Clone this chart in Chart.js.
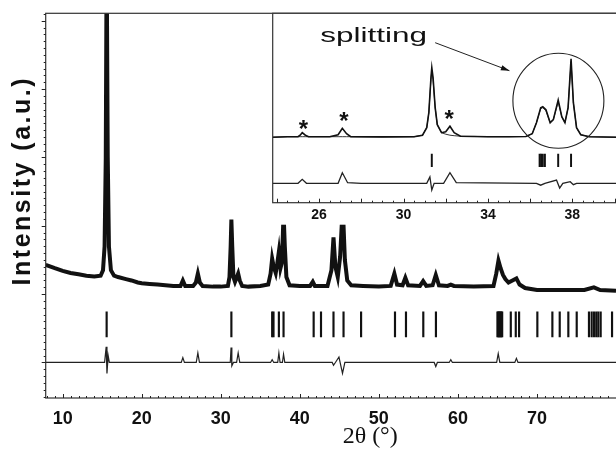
<!DOCTYPE html>
<html>
<head>
<meta charset="utf-8">
<script src="https://cdn.jsdelivr.net/npm/chart.js@4.4.0/dist/chart.umd.min.js"></script>
<style>
  html, body { margin: 0; padding: 0; background: #fff; }
  #wrap { position: relative; width: 616px; height: 449px; overflow: hidden; }
  canvas { position: absolute; left: 0; top: 0; }
</style>
</head>
<body>
<div id="wrap">
  <canvas id="mainChart" width="616" height="449"></canvas>
  <canvas id="insetChart" width="616" height="449"></canvas>
</div>
<script>
// main pattern, observed intensity (a.u.) vs 2theta
let obsAngle = [7.85, 9, 10, 11, 12, 13, 14, 14.8, 15.1, 15.3, 15.45, 15.56, 15.7, 15.85, 16.1, 16.5,
  17, 18, 18.7, 19.5, 20, 21, 22, 23, 24, 24.9, 25.2, 25.5, 26.5, 26.85, 27.1, 27.35, 27.7, 29, 30,
  30.9, 31.1, 31.25, 31.34, 31.45, 31.6, 31.8, 32.0, 32.2, 32.4, 32.7, 33.5, 35, 36.0, 36.3, 36.5,
  36.7, 36.95, 37.15, 37.35, 37.55, 37.7, 37.85, 37.94, 38.1, 38.3, 38.7, 40, 41.3, 41.64, 41.9,
  43.5, 44.0, 44.26, 44.5, 44.8, 45.1, 45.43, 45.7, 46.0, 46.5, 48, 50, 51.5, 51.96, 52.3, 53.0,
  53.35, 53.7, 55.2, 55.6, 56.0, 56.8, 57.2, 57.6, 58.7, 59.1, 59.5, 62, 64.5, 64.85, 65.13, 65.4,
  65.7, 66.0, 66.4, 66.9, 67.4, 67.8, 68.5, 70, 72, 74, 76, 77.2, 78, 80];
let obsCounts = [1.43, 1.38, 1.34, 1.31, 1.29, 1.27, 1.26, 1.27, 1.35, 1.7, 3.0, 6.0, 3.0, 1.7, 1.35, 1.27,
  1.25, 1.22, 1.20, 1.17, 1.16, 1.15, 1.14, 1.13, 1.12, 1.12, 1.20, 1.12, 1.12, 1.17, 1.30, 1.17, 1.12, 1.11, 1.11,
  1.12, 1.25, 1.7, 2.09, 1.7, 1.25, 1.18, 1.24, 1.30, 1.2, 1.12, 1.11, 1.12, 1.14, 1.3, 1.52,
  1.4, 1.31, 1.45, 1.62, 1.38, 1.45, 1.85, 2.2, 1.7, 1.25, 1.13, 1.12, 1.12, 1.18, 1.12,
  1.12, 1.35, 1.83, 1.4, 1.25, 1.55, 2.3, 1.5, 1.2, 1.13, 1.12, 1.11, 1.12, 1.30, 1.14, 1.13,
  1.24, 1.13, 1.12, 1.19, 1.12, 1.13, 1.28, 1.13, 1.12, 1.14, 1.12, 1.11, 1.12, 1.3, 1.49, 1.38,
  1.28, 1.22, 1.17, 1.2, 1.23, 1.14, 1.09, 1.06, 1.06, 1.06, 1.06, 1.10, 1.06, 1.05];

// difference curve
let diffAngle = [7.85, 15.3, 15.5, 15.6, 15.75, 15.9, 25.0, 25.2, 25.4, 26.9, 27.1, 27.3, 31.2, 31.3, 31.4,
  31.6, 32.0, 32.2, 32.4, 36.3, 36.5, 36.7, 37.2, 37.35, 37.5, 37.8, 37.94, 38.1, 44.1, 44.26, 44.5,
  44.95, 45.4, 45.7, 57.0, 57.2, 57.4, 58.9, 59.1, 59.3, 64.9, 65.1, 65.3, 67.2, 67.4, 67.6, 80];
let diffCounts = [0, 0, 0.23, -0.16, 0.1, 0, 0, 0.07, 0, 0, 0.14, 0, 0, 0.22, -0.05,
  0, 0, 0.14, 0, 0, 0.04, 0, 0, 0.14, 0, 0, 0.12, 0, 0, -0.04, 0,
  0.08, -0.16, 0, 0, -0.06, 0, 0, 0.04, 0, 0, 0.13, 0, 0, 0.06, 0, 0];

// Bragg reflection positions
let braggPos = [15.56, 31.34, 36.5, 36.67, 37.35, 37.94, 41.75, 42.68, 44.26, 45.53, 47.75, 52.04, 53.43,
  55.62, 57.22, 65.0, 65.1, 65.2, 65.3, 65.4, 65.5, 65.6, 66.69, 67.32, 67.74, 70.05, 71.95, 72.88,
  73.97, 75.03, 76.58, 76.92, 77.21, 77.5, 77.76, 78.06, 79.5];
let braggRange = [0.375, 0.74];
let xTicks = [10, 20, 30, 40, 50, 60, 70];

// inset, 24-40 degrees
let insetAngle = [23.8, 24.5, 25.0, 25.1, 25.2, 25.35, 25.5, 26.5, 26.9, 27.1, 27.3, 27.5, 29, 30.5, 30.9,
  31.1, 31.2, 31.3, 31.34, 31.4, 31.5, 31.6, 31.8, 32.0, 32.2, 32.4, 32.7, 34, 35, 35.8, 36.1, 36.3,
  36.5, 36.6, 36.75, 36.95, 37.1, 37.33, 37.5, 37.65, 37.8, 37.94, 38.05, 38.2, 38.4, 38.8, 40.1];
let insetObs = [6.55, 6.6, 6.6, 6.75, 7.0, 6.75, 6.6, 6.6, 6.8, 7.44, 6.9, 6.6, 6.58, 6.6, 6.75,
  7.5, 9.0, 12.5, 13.5, 12.5, 9.5, 7.8, 7.0, 7.1, 7.65, 7.0, 6.65, 6.6, 6.6, 6.62, 6.9, 8.0,
  9.5, 9.6, 9.3, 8.0, 8.3, 10.27, 8.6, 8.0, 9.5, 14.4, 10.0, 7.5, 6.8, 6.6, 6.55];
let insetCalc = [6.55, 6.6, 6.6, 6.6, 6.6, 6.6, 6.6, 6.6, 6.6, 6.6, 6.6, 6.6, 6.58, 6.6, 6.75,
  7.5, 9.0, 12.3, 13.2, 12.3, 9.5, 7.8, 7.0, 6.85, 6.75, 6.7, 6.65, 6.6, 6.6, 6.62, 6.9, 8.0,
  9.4, 9.5, 9.2, 8.0, 8.3, 10.1, 8.6, 8.0, 9.5, 14.1, 10.0, 7.5, 6.8, 6.6, 6.55];
let insetDiffAngle = [23.8, 25.0, 25.2, 25.4, 26.9, 27.1, 27.35, 28, 31.1, 31.25, 31.34, 31.45, 31.9, 32.2,
  32.5, 36.3, 36.5, 36.7, 37.25, 37.4, 37.55, 37.9, 38.05, 38.2, 40.1];
let insetDiff = [1.94, 1.94, 2.34, 1.94, 1.94, 3.0, 2.0, 1.94, 1.94, 2.57, 1.27, 1.94, 1.94, 3.0,
  2.0, 1.94, 1.75, 1.94, 2.27, 1.47, 1.94, 2.1, 1.8, 1.94, 1.94];
let insetBragg = [31.34, 36.45, 36.52, 36.6, 36.7, 37.33, 37.94];
let insetBraggRange = [3.6, 4.87];
let insetTicks = [26, 30, 34, 38];
let starAngle = [25.26, 27.18, 32.16];
let starLevel = [7.67, 8.44, 8.6];

function pts(xs, ys) { return xs.map((x, i) => ({ x: x, y: ys[i] })); }
function bars(xs, range) { return xs.map(x => ({ x: x, y: range })); }

// frame + inward/outward ticks drawn on the chart's own scales
const frameTicks = {
  id: 'frameTicks',
  beforeDraw(chart, args, o) {
    if (!o.fill) return;
    const a = chart.chartArea, ctx = chart.ctx;
    ctx.save();
    ctx.fillStyle = '#fff';
    ctx.fillRect(a.left, a.top, a.right - a.left, a.bottom - a.top + o.fillBelow);
    ctx.restore();
  },
  afterDraw(chart, args, o) {
    const { ctx, chartArea: a, scales } = chart;
    ctx.save();
    ctx.strokeStyle = '#333';
    ctx.lineWidth = 1.2;
    ctx.strokeRect(a.left, a.top, a.right - a.left + 2, a.bottom - a.top);
    ctx.lineWidth = 1;
    ctx.strokeStyle = '#222';
    const xs = scales.x;
    const n0 = Math.ceil(xs.min / o.xMinor), n1 = Math.floor(xs.max / o.xMinor);
    for (let n = n0; n <= n1; n++) {
      const v = n * o.xMinor;
      const major = Math.abs(v / o.xMajor - Math.round(v / o.xMajor)) < 1e-6;
      const px = Math.round(xs.getPixelForValue(v)) + 0.5;
      ctx.beginPath();
      ctx.moveTo(px, a.bottom);
      ctx.lineTo(px, a.bottom - (major ? 4 : 2));
      ctx.stroke();
    }
    if (o.yMinor) {
      const ys = scales.y;
      const m0 = Math.ceil(ys.min / o.yMinor), m1 = Math.floor(ys.max / o.yMinor);
      for (let m = m0; m <= m1; m++) {
        const v = m * o.yMinor;
        const major = Math.abs(v / o.yMajor - Math.round(v / o.yMajor)) < 1e-6;
        const py = Math.round(ys.getPixelForValue(v)) + 0.5;
        ctx.beginPath();
        ctx.moveTo(a.left, py);
        ctx.lineTo(a.left - (major ? 4 : 2), py);
        ctx.stroke();
      }
    }
    ctx.restore();
  }
};

// axis titles of the main plot
const mainTitles = {
  id: 'mainTitles',
  afterDraw(chart) {
    const ctx = chart.ctx, a = chart.chartArea;
    ctx.save();
    ctx.fillStyle = '#111';
    ctx.textAlign = 'center';
    ctx.textBaseline = 'middle';
    ctx.font = '24px "Liberation Serif"';
    ctx.fillText('2θ (°)', chart.scales.x.getPixelForValue(48.9), 437);
    ctx.translate(23, (a.top + a.bottom) / 2 - 25);
    ctx.rotate(-Math.PI / 2);
    ctx.font = 'bold 25px "Liberation Sans"';
    ctx.letterSpacing = '2.5px';
    ctx.fillText('Intensity (a.u.)', 0, 0);
    ctx.restore();
  }
};

// labels, stars, circle and arrow in the inset
const insetNotes = {
  id: 'insetNotes',
  afterDatasetsDraw(chart) {
    const ctx = chart.ctx, xs = chart.scales.x, ys = chart.scales.y;
    ctx.save();
    ctx.fillStyle = '#111';
    ctx.strokeStyle = '#222';
    ctx.textAlign = 'center';
    ctx.textBaseline = 'middle';
    ctx.font = 'bold 24px "Liberation Sans"';
    starAngle.forEach((s, i) => ctx.fillText('*', xs.getPixelForValue(s), ys.getPixelForValue(starLevel[i]) + 4));
    // circle around the split peaks
    ctx.lineWidth = 1.1;
    ctx.beginPath();
    ctx.ellipse(xs.getPixelForValue(37.34), ys.getPixelForValue(10.19), 45.5, 47.5, 0, 0, Math.PI * 2);
    ctx.stroke();
    // text and arrow
    ctx.textAlign = 'left';
    ctx.textBaseline = 'alphabetic';
    ctx.font = '21px "Liberation Sans"';
    const tx = xs.getPixelForValue(26.05), ty = ys.getPixelForValue(16.12);
    ctx.save();
    ctx.translate(tx, ty);
    ctx.scale(1.5, 1);
    ctx.fillText('splitting', 0, 0);
    ctx.restore();
    const x1 = xs.getPixelForValue(31.5), y1 = ys.getPixelForValue(16.0);
    const x2 = xs.getPixelForValue(35.02), y2 = ys.getPixelForValue(13.2);
    ctx.lineWidth = 1;
    ctx.beginPath(); ctx.moveTo(x1, y1); ctx.lineTo(x2, y2); ctx.stroke();
    const ang = Math.atan2(y2 - y1, x2 - x1);
    ctx.beginPath();
    ctx.moveTo(x2, y2);
    ctx.lineTo(x2 - 9 * Math.cos(ang - 0.3), y2 - 9 * Math.sin(ang - 0.3));
    ctx.lineTo(x2 - 9 * Math.cos(ang + 0.3), y2 - 9 * Math.sin(ang + 0.3));
    ctx.closePath();
    ctx.fill();
    ctx.restore();
  }
};

Chart.defaults.font.family = '"Liberation Sans", Arial, sans-serif';
Chart.defaults.color = '#111';

new Chart(document.getElementById('mainChart'), {
  type: 'line',
  data: {
    datasets: [
      { label: 'Observed', data: pts(obsAngle, obsCounts), borderColor: '#111', borderWidth: 4,
        pointRadius: 0, tension: 0 },
      { label: 'Difference', data: pts(diffAngle, diffCounts), borderColor: '#222', borderWidth: 1.2,
        pointRadius: 0, tension: 0 },
      { type: 'bar', label: 'Bragg', data: bars(braggPos, braggRange), backgroundColor: '#111',
        barThickness: 1.5, borderWidth: 0 }
    ]
  },
  options: {
    responsive: false,
    animation: false,
    devicePixelRatio: 1,
    layout: { padding: { left: 0, right: 0, top: 13.3, bottom: 0 } },
    plugins: {
      legend: { display: false },
      tooltip: { enabled: false },
      frameTicks: { xMinor: 1, xMajor: 10, yMinor: 0.1, yMajor: 1 }
    },
    scales: {
      x: {
        type: 'linear', min: 7.85, max: 80, offset: false,
        grid: { display: false, drawTicks: false, offset: false },
        border: { display: false },
        afterFit: s => { s.height = 51; s.paddingLeft = 0; s.paddingRight = 0; },
        afterBuildTicks: s => { s.ticks = xTicks.map(v => ({ value: v })); },
        ticks: { padding: 10, font: { size: 18, weight: 'bold' }, color: '#111', maxRotation: 0 }
      },
      y: {
        type: 'linear', min: -0.52, max: 5.11,
        grid: { display: false, drawTicks: false },
        border: { display: false },
        afterFit: s => { s.width = 45.7; },
        ticks: { display: false }
      }
    }
  },
  plugins: [frameTicks, mainTitles]
});

new Chart(document.getElementById('insetChart'), {
  type: 'line',
  data: {
    datasets: [
      { label: 'Observed', data: pts(insetAngle, insetObs), borderColor: '#111', borderWidth: 1.6,
        pointRadius: 0, tension: 0 },
      { label: 'Calculated', data: pts(insetAngle, insetCalc), borderColor: '#333', borderWidth: 1,
        pointRadius: 0, tension: 0 },
      { label: 'Difference', data: pts(insetDiffAngle, insetDiff), borderColor: '#222', borderWidth: 1.3,
        pointRadius: 0, tension: 0 },
      { type: 'bar', label: 'Bragg', data: bars(insetBragg, insetBraggRange), backgroundColor: '#111',
        barThickness: 1.3, borderWidth: 0 }
    ]
  },
  options: {
    responsive: false,
    animation: false,
    devicePixelRatio: 1,
    layout: { padding: { left: 272.7, right: 0, top: 13.3, bottom: 0 } },
    plugins: {
      legend: { display: false },
      tooltip: { enabled: false },
      frameTicks: { fill: true, fillBelow: 22, xMinor: 0.5, xMajor: 2 }
    },
    scales: {
      x: {
        type: 'linear', min: 23.8, max: 40.07, offset: false,
        grid: { display: false, drawTicks: false, offset: false },
        border: { display: false },
        afterFit: s => { s.height = 449 - 202.7; s.paddingLeft = 0; s.paddingRight = 0; },
        afterBuildTicks: s => { s.ticks = insetTicks.map(v => ({ value: v })); },
        ticks: { padding: 4, font: { size: 14, weight: 'bold' }, color: '#111', maxRotation: 0 }
      },
      y: {
        type: 'linear', min: 0, max: 18.94, display: false
      }
    }
  },
  plugins: [frameTicks, insetNotes]
});
</script>
</body>
</html>
